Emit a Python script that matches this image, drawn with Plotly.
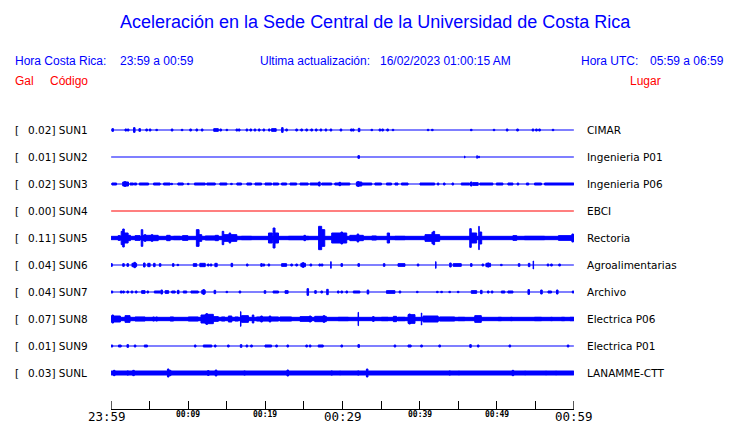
import plotly.graph_objects as go

# ---------------- data ----------------
STATIONS = ["SUN1", "SUN2", "SUN3", "SUN4", "SUN5", "SUN6", "SUN7", "SUN8", "SUN9", "SUNL"]
PEAK_GAL = ["0.02", "0.01", "0.02", "0.00", "0.11", "0.04", "0.04", "0.07", "0.01", "0.03"]
PLACES = ["CIMAR", "Ingenieria P01", "Ingenieria P06", "EBCI", "Rectoria",
          "Agroalimentarias", "Archivo", "Electrica P06", "Electrica P01", "LANAMME-CTT"]
TRACE_COLORS = ["#0000ff", "#0000ff", "#0000ff", "#ff0000", "#0000ff",
                "#0000ff", "#0000ff", "#0000ff", "#0000ff", "#0000ff"]
# background noise half-amplitude (relative counts), 0 = quiet trace
BACKGROUND = [0, 0, 0, 0, 5, 0, 0, 5, 0, 6]

# time window in minutes after 23:59 (local time)
TIME_WINDOW = [0, 60]
TICK_MINUTES = [0, 5, 10, 15, 20, 25, 30, 35, 40, 45, 50, 55, 60]
MAJOR_TICK_LABELS = {0: "23:59", 30: "00:29", 60: "00:59"}
MINOR_TICK_LABELS = {10: "00:09", 20: "00:19", 40: "00:39", 50: "00:49"}

# bursts: (minute, amplitude) or (start_minute, end_minute, amplitude); amplitude in relative counts
BURSTS = {
    "SUN1": [(0.2, 4), (1.9, 3), (2.2, 3), (3.0, 7), (3.7, 4), (4.6, 3), (5.05, 3), (5.9, 2), (7.9, 3),
             (9.2, 2), (10.3, 3), (11.1, 3), (11.8, 3), (13.3, 13.9, 4), (14.2, 3), (15.0, 2), (16.3, 3),
             (16.6, 3), (17.6, 3), (18.1, 3), (18.65, 3), (19.2, 3), (19.8, 3), (20.5, 3), (20.8, 21.4, 4),
             (22.2, 7), (22.75, 3), (24.05, 3), (24.7, 3), (25.35, 3), (26.0, 3), (26.6, 3), (27.2, 3),
             (27.85, 3), (28.5, 3), (29.8, 3), (31.15, 3), (31.4, 3), (32.15, 5), (33.8, 2), (34.85, 3),
             (35.2, 3), (35.85, 3), (36.55, 2), (41.1, 2), (41.65, 2), (46.7, 2), (49.65, 2), (51.35, 3),
             (52.7, 3), (54.7, 3), (55.15, 3), (55.55, 3), (57.3, 2)],
    "SUN2": [(32.1, 4), (45.85, 3), (47.45, 4), (47.7, 3)],
    "SUN3": [(0.1, 0.7, 3), (1.5, 2.25, 6), (1.8, 7), (2.45, 2.9, 3), (3.0, 3.3, 3), (3.65, 4.85, 3),
             (5.5, 6.35, 3), (6.8, 7.65, 3), (7.85, 2), (8.65, 9.35, 3), (10.0, 2), (10.8, 12.2, 3),
             (12.4, 13.5, 3), (14.1, 15.0, 3), (15.6, 2), (16.3, 16.9, 3), (17.6, 18.2, 3), (18.65, 19.5, 3),
             (19.95, 20.8, 3), (21.0, 21.7, 3), (22.1, 22.75, 3), (23.2, 24.05, 3), (24.5, 25.55, 3),
             (25.8, 26.85, 3), (27.0, 6), (27.3, 28.6, 3), (29.0, 30.95, 3), (29.65, 5), (31.8, 32.5, 6),
             (32.05, 7), (32.5, 33.8, 3), (34.2, 35.05, 3), (35.7, 36.35, 3), (36.8, 37.2, 3),
             (37.65, 38.5, 3), (40.05, 41.95, 3), (42.4, 3), (43.2, 3), (44.3, 3), (45.4, 46.5, 3),
             (46.7, 6), (46.9, 47.6, 4), (47.8, 49.5, 3), (49.95, 50.8, 3), (51.45, 52.1, 3), (52.75, 3),
             (53.85, 54.15, 3), (54.9, 55.8, 3), (56.2, 60.0, 3)],
    "SUN4": [],
    "SUN5": [(0.9, 1.2, 7), (1.3, 1.6, 20), (1.6, 27), (1.6, 2.2, 15), (2.2, 2.5, 8), (3.1, 3.75, 7),
             (3.9, 4.1, 25), (4.1, 5.05, 8), (4.4, 10), (5.05, 6.1, 8), (5.3, 10), (7.2, 7.65, 8),
             (8.1, 8.95, 5), (9.25, 9.95, 7), (11.05, 11.4, 25), (11.4, 11.75, 10), (12.2, 13.5, 6),
             (13.5, 13.9, 8), (14.4, 14.6, 20), (14.6, 16.3, 10), (15.4, 15), (16.9, 18.2, 5),
             (20.4, 20.9, 15), (21.0, 21.25, 30), (21.25, 21.7, 15), (23.0, 25.6, 5), (25.1, 8),
             (26.9, 27.3, 35), (27.3, 27.7, 25), (28.6, 30.55, 15), (29.9, 18), (30.95, 32.7, 8),
             (32.0, 12), (33.8, 34.4, 6), (35.8, 36.1, 15), (36.8, 38.1, 5), (40.7, 42.6, 10), (41.7, 17),
             (41.85, 20), (46.5, 46.7, 28), (46.7, 47.4, 15), (47.7, 35), (47.8, 48.05, 18),
             (52.1, 52.6, 7), (53.6, 56.2, 5), (58.0, 60.0, 7), (59.85, 12)],
    "SUN6": [(0.05, 4), (1.6, 4), (2.15, 4), (2.7, 3.3, 5), (3.05, 8), (4.3, 6), (4.75, 5.05, 5),
             (5.6, 5), (6.35, 4), (8.05, 4), (8.65, 2), (10.65, 11.1, 4), (11.5, 12.2, 5), (12.6, 3),
             (12.95, 3), (13.45, 13.75, 5), (15.65, 5), (17.65, 3), (19.5, 4), (19.8, 3), (20.45, 3),
             (22.1, 22.75, 4), (23.4, 3), (24.05, 3), (24.6, 25.2, 5), (24.9, 7), (25.9, 3), (27.05, 3),
             (27.35, 3), (28.5, 10), (29.9, 4), (32.1, 4), (35.4, 4), (37.2, 38.1, 4), (39.8, 3),
             (42.1, 10), (44.0, 6), (44.35, 45.4, 4), (46.7, 4), (48.2, 3), (48.6, 49.2, 5), (48.9, 6),
             (50.6, 2), (52.9, 4), (54.2, 5), (54.75, 12), (56.65, 3), (57.1, 3), (58.15, 3)],
    "SUN7": [(0.1, 3), (1.3, 3), (1.6, 3), (2.15, 3), (2.7, 3), (3.25, 3), (3.95, 4.4, 4), (4.75, 3),
             (5.6, 6.35, 3), (6.55, 6), (7.0, 7.45, 4), (7.85, 8.3, 3), (8.7, 5), (9.35, 9.8, 3),
             (10.35, 11.3, 3), (11.75, 12.2, 5), (12.0, 7), (13.45, 5), (15.0, 2), (16.7, 3), (19.95, 4),
             (21.0, 21.7, 3), (22.55, 22.95, 4), (25.5, 10), (26.5, 4), (27.3, 3), (28.05, 8), (29.45, 3),
             (29.9, 3), (30.55, 3), (31.4, 32.25, 3), (33.3, 6), (35.7, 36.8, 4), (37.45, 3), (39.7, 2),
             (42.3, 2), (42.85, 2), (43.9, 2), (45.0, 2), (46.7, 47.4, 4), (48.0, 5), (48.9, 3), (49.4, 3),
             (50.6, 51.05, 3), (51.45, 52.1, 3), (54.15, 7), (55.8, 6), (56.65, 57.1, 3), (57.85, 6),
             (59.9, 3)],
    "SUN8": [(0.0, 1.2, 9), (0.2, 12), (1.8, 2.45, 10), (3.1, 4.4, 6), (5.5, 6), (5.9, 6), (7.65, 8.1, 6),
             (10.0, 11.3, 6), (11.65, 12.2, 12), (12.2, 13.25, 14), (12.4, 16), (13.25, 13.9, 7),
             (14.3, 14.75, 6), (15.2, 15.65, 9), (16.05, 16.5, 6), (16.8, 22), (16.9, 17.8, 10), (18.4, 12),
             (18.85, 21.7, 6), (19.5, 9), (20.6, 9), (21.9, 23.4, 6), (24.5, 26.0, 7), (25.8, 9),
             (26.4, 27.9, 8), (27.6, 10), (29.45, 30.75, 5), (32.05, 20), (34.0, 7), (35.05, 35.9, 5),
             (36.6, 37.0, 8), (37.2, 38.1, 5), (38.5, 39.4, 13), (38.7, 15), (40.25, 18), (40.45, 42.4, 9),
             (42.6, 44.55, 6), (45.0, 45.85, 5), (47.15, 48.0, 10), (50.2, 50.6, 5), (51.9, 5),
             (54.9, 55.8, 5), (57.1, 5), (58.4, 58.8, 5), (59.5, 60.0, 5)],
    "SUN9": [(0.1, 3), (0.95, 1.3, 3), (2.15, 4), (3.1, 3), (4.4, 3), (4.6, 3), (10.9, 3), (11.95, 13.05, 3),
             (13.5, 3), (15.2, 3), (16.85, 4), (17.6, 3), (18.2, 3), (19.95, 20.8, 3), (21.45, 3), (22.9, 3),
             (25.35, 3), (25.8, 3), (26.85, 27.5, 3), (29.9, 3), (32.1, 4), (36.8, 3), (38.5, 38.9, 3),
             (40.25, 3), (42.6, 3), (46.6, 4), (47.6, 3), (51.7, 3), (59.25, 3)],
    "SUNL": [(0.4, 8), (2.15, 6), (2.9, 8), (7.4, 12), (7.65, 8), (12.6, 7), (13.6, 9), (17.3, 6), (22.9, 9),
             (28.6, 6), (29.7, 5), (30.9, 4), (32.05, 6), (33.2, 12), (43.9, 6), (45.1, 5), (52.1, 8),
             (53.7, 5), (56.4, 5), (57.7, 5)],
}
NARROW = {("SUN6", 28.5), ("SUN6", 42.1), ("SUN6", 54.75), ("SUN8", 16.8), ("SUN8", 32.05),
          ("SUN8", 40.25), ("SUN2", 45.85), ("SUN2", 47.45), ("SUN2", 47.7), ("SUN5", 47.7)}

# ---------------- layout geometry (pixels) ----------------
W, H = 740, 423
L, R, T, B = 111, 574, 100, 409
AMP_UNIT = 1 / 81.0          # trace spacing per relative count
SPOT_WIDTH = 0.2             # minutes for an isolated spike
NARROW_WIDTH = 0.06
PEN = 1.0                    # pen width (px) used for all trace strokes
TICK_LEN = 8


def pxx(p):
    return (p - L) / (R - L)


def pxy(p):
    return (B - p) / (B - T)


n = len(STATIONS)
offsets = [n - 1 - i for i in range(n)]
y_lo = offsets[-1] - (B - 373) / 27.0
y_hi = offsets[0] + (130 - T) / 27.0

fig = go.Figure()

for i, st in enumerate(STATIONS):
    off = offsets[i]
    col = TRACE_COLORS[i]
    fig.add_trace(go.Scatter(x=TIME_WINDOW, y=[off, off], mode="lines",
                             line=dict(color=col, width=1.2), hoverinfo="skip"))
    xs, bases, hs, ws = [], [], [], []
    if BACKGROUND[i]:
        a = BACKGROUND[i] * AMP_UNIT
        xs.append((TIME_WINDOW[0] + TIME_WINDOW[1]) / 2)
        ws.append(TIME_WINDOW[1] - TIME_WINDOW[0])
        bases.append(off - a)
        hs.append(2 * a)
    for b in BURSTS[st]:
        if len(b) == 2:
            t, amp = b
            w = NARROW_WIDTH if (st, t) in NARROW else SPOT_WIDTH
            c = t
        else:
            t0, t1, amp = b
            w = t1 - t0
            c = (t0 + t1) / 2
        a = amp * AMP_UNIT
        xs.append(c)
        ws.append(w)
        bases.append(off - a)
        hs.append(2 * a)
    if xs:
        fig.add_trace(go.Bar(x=xs, y=hs, base=bases, width=ws,
                             marker=dict(color=col, line=dict(width=PEN, color=col)),
                             hoverinfo="skip"))

ann = []
BLUE = "#0000ff"
RED = "#ff0000"
HF = "Liberation Sans, Arial, sans-serif"
LF = "DejaVu Sans, sans-serif"


def text(px, py, s, size, color, family, xanchor="left"):
    ann.append(dict(x=pxx(px), y=pxy(py), xref="paper", yref="paper", text=s, showarrow=False,
                    xanchor=xanchor, yanchor="middle",
                    font=dict(size=size, color=color, family=family)))


text(375, 22, "Aceleración en la Sede Central de la Universidad de Costa Rica", 18, BLUE, HF, "center")
text(13, 61, "Hora Costa Rica:", 12, BLUE, HF)
text(118, 61, "23:59 a 00:59", 12, BLUE, HF)
text(258, 61, "Ultima actualización:", 12, BLUE, HF)
text(378, 61, "16/02/2023 01:00:15 AM", 12, BLUE, HF)
text(579, 61, "Hora UTC:", 12, BLUE, HF)
text(648, 61, "05:59 a 06:59", 12, BLUE, HF)
text(13, 81, "Gal", 12, RED, HF)
text(48, 81, "Código", 12, RED, HF)
text(628, 81, "Lugar", 12, RED, HF)

for i, st in enumerate(STATIONS):
    py = 130 + 27 * i
    text(13, py, "[", 10.5, "#000000", LF)
    text(26, py, f"{PEAK_GAL[i]}] {st}", 10.5, "#000000", LF)
    text(585, py, PLACES[i], 10.5, "#000000", LF)

for m, lab in MAJOR_TICK_LABELS.items():
    ann.append(dict(x=m, y=pxy(416), xref="x", yref="paper", text=lab, showarrow=False,
                    xanchor="center", yanchor="middle", xshift=-4 if m == 0 else 0,
                    font=dict(size=12.5, color="#000000", family="DejaVu Sans Mono, monospace")))
for m, lab in MINOR_TICK_LABELS.items():
    ann.append(dict(x=m, y=pxy(414.5), xref="x", yref="paper", text=f"<b>{lab}</b>", showarrow=False,
                    xanchor="center", yanchor="middle",
                    font=dict(size=8, color="#000000", family="DejaVu Sans Mono, monospace")))

# ticks at both ends of the time window (drawn explicitly so they are not clipped)
shapes = [dict(type="line", xref="x", yref="paper", x0=m, x1=m, y0=0, y1=TICK_LEN / (B - T),
               line=dict(color="#000000", width=1)) for m in TIME_WINDOW]

fig.update_layout(
    width=W, height=H,
    margin=dict(l=L, r=W - R, t=T, b=H - B, pad=0),
    paper_bgcolor="white", plot_bgcolor="white",
    showlegend=False, barmode="overlay",
    annotations=ann, shapes=shapes,
    xaxis=dict(range=[TIME_WINDOW[0] - 0.02, TIME_WINDOW[1] + 0.02], tickvals=TICK_MINUTES,
               ticktext=[""] * len(TICK_MINUTES),
               ticks="inside", ticklen=TICK_LEN, tickwidth=1, tickcolor="#000000",
               showline=True, linecolor="#000000", linewidth=1, showgrid=False, zeroline=False,
               fixedrange=True),
    yaxis=dict(range=[y_lo, y_hi], visible=False, fixedrange=True),
)

fig.write_html("out.html", config={"displayModeBar": False},
               post_script="document.body.style.margin='0';document.body.style.padding='0';")
